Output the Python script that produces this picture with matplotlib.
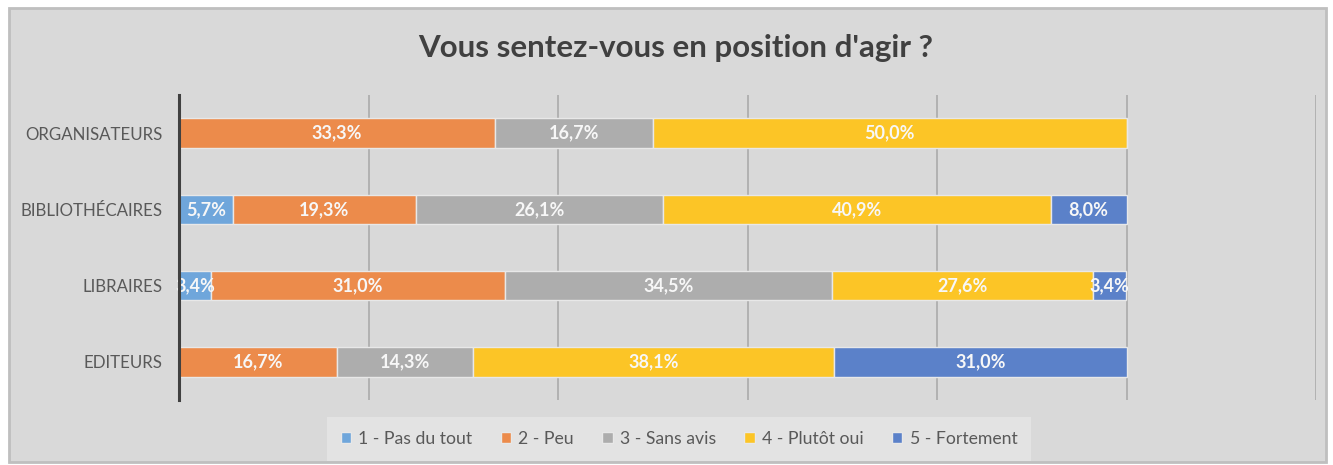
import matplotlib
matplotlib.use('Agg')
import matplotlib.pyplot as plt
from matplotlib.patches import Rectangle
import numpy as np

categories = ['ORGANISATEURS', 'BIBLIOTHÉCAIRES', 'LIBRAIRES', 'EDITEURS']
series = ['1 - Pas du tout', '2 - Peu', '3 - Sans avis', '4 - Plutôt oui', '5 - Fortement']
pas_du_tout = [0.0, 5.7, 3.4, 0.0]
peu = [33.3, 19.3, 31.0, 16.7]
sans_avis = [16.7, 26.1, 34.5, 14.3]
plutot_oui = [50.0, 40.9, 27.6, 38.1]
fortement = [0.0, 8.0, 3.4, 31.0]
colors = ['#6fa6db', '#ec8b4b', '#adadad', '#fcc526', '#5b81c9']

plt.rcParams['font.family'] = ['Lato', 'DejaVu Sans']


def main():
    fig = plt.figure(figsize=(13.33, 4.65), dpi=100)
    fig.patch.set_facecolor('white')
    fig.patches.append(Rectangle((9 / 1333, 3 / 465), 1317 / 1333, 454 / 465,
                                 transform=fig.transFigure, facecolor='#d9d9d9',
                                 edgecolor='#bfbfbf', linewidth=2, zorder=-10))

    ax = fig.add_axes([179 / 1333, 1 - 400 / 465, 1137 / 1333, 305 / 465])
    ax.set_facecolor('none')
    ax.set_zorder(2)

    values = [pas_du_tout, peu, sans_avis, plutot_oui, fortement]
    y = np.arange(len(categories))
    left = np.zeros(len(categories))
    for name, vals, col in zip(series, values, colors):
        vals = np.array(vals)
        ax.barh(y, vals, left=left, height=0.39, color=col, edgecolor='#e8e8e8',
                linewidth=1, label=name, zorder=3)
        for yi, l, v in zip(y, left, vals):
            if v > 0:
                ax.text(l + v / 2, yi, f'{v:.1f}%'.replace('.', ','), ha='center',
                        va='center', color='#f7f7f7', fontsize=13,
                        fontweight='bold', zorder=4)
        left += vals

    ax.set_xlim(0, 120)
    ax.set_ylim(len(categories) - 0.5, -0.5)
    ax.set_xticks(np.arange(0, 121, 20))
    ax.set_xticklabels([])
    ax.tick_params(axis='x', length=0)
    ax.grid(axis='x', color='#ababab', linewidth=1.2, zorder=1)
    ax.set_yticks(y)
    ax.set_yticklabels(categories, fontsize=12.2, color='#595959')
    ax.tick_params(axis='y', length=0, pad=12)
    for s in ['top', 'right', 'bottom']:
        ax.spines[s].set_visible(False)
    ax.spines['left'].set_color('#404040')
    ax.spines['left'].set_linewidth(2.2)
    ax.spines['left'].set_zorder(5)

    fig.text(676 / 1333, 1 - 48 / 465, "Vous sentez-vous en position d'agir ?",
             ha='center', va='center', fontsize=22.5, fontweight='bold', color='#404040')

    leg = fig.legend(loc='center', bbox_to_anchor=(679 / 1333, 1 - 439 / 465), ncol=5,
                     frameon=True, fontsize=12.7, handlelength=0.6, handleheight=0.6,
                     handletextpad=0.4, columnspacing=1.6, borderpad=0.5)
    leg.get_frame().set_facecolor('#e6e6e6')
    leg.get_frame().set_edgecolor('none')
    leg.get_frame().set_boxstyle('square')
    for t in leg.get_texts():
        t.set_color('#595959')

    plt.savefig('out.png', dpi=100)


if __name__ == '__main__':
    main()
